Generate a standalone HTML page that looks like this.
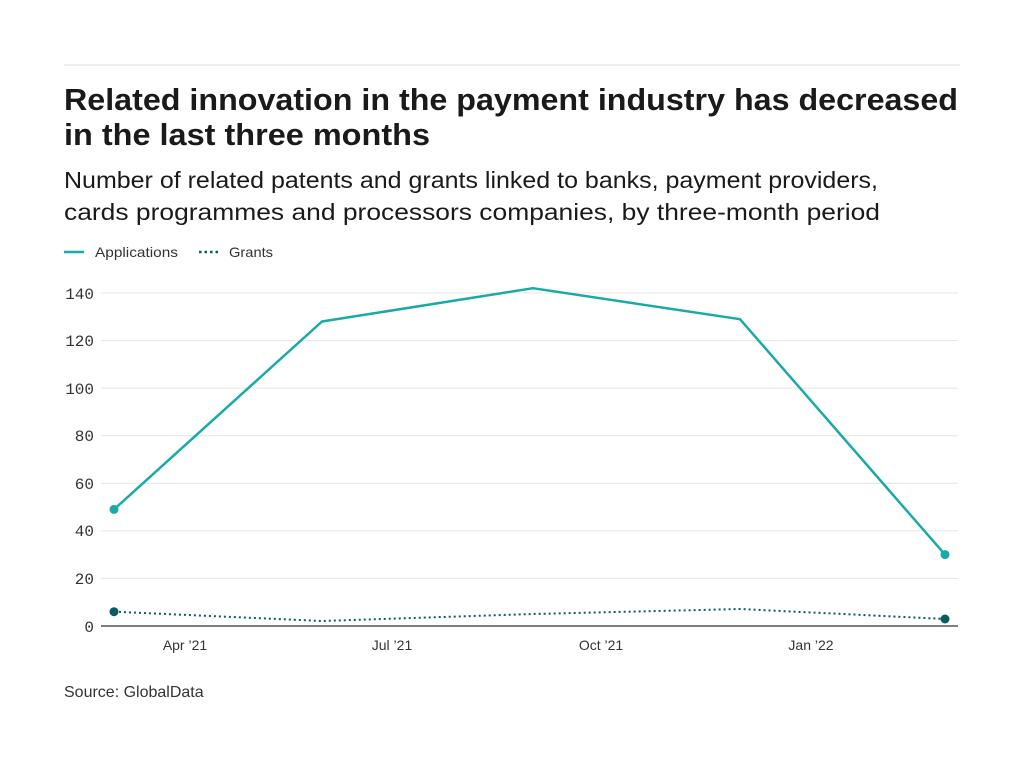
<!DOCTYPE html>
<html><head><style>
body{margin:0;background:#fff;width:1024px;height:768px;overflow:hidden;font-family:"Liberation Sans",sans-serif;color:#1a1a1a}
</style></head><body>
<svg width="1024" height="768" xmlns="http://www.w3.org/2000/svg">
<line x1="64" y1="65" x2="960" y2="65" stroke="#ddd" stroke-width="1"/>
<text x="64" y="110" font-size="31" font-weight="bold" fill="#1a1a1a" font-family="Liberation Sans, sans-serif" textLength="894" lengthAdjust="spacingAndGlyphs">Related innovation in the payment industry has decreased</text>
<text x="64" y="145" font-size="31" font-weight="bold" fill="#1a1a1a" font-family="Liberation Sans, sans-serif" textLength="366" lengthAdjust="spacingAndGlyphs">in the last three months</text>
<text x="64" y="188" font-size="23" fill="#1a1a1a" font-family="Liberation Sans, sans-serif" textLength="814" lengthAdjust="spacingAndGlyphs">Number of related patents and grants linked to banks, payment providers,</text>
<text x="64" y="220" font-size="23" fill="#1a1a1a" font-family="Liberation Sans, sans-serif" textLength="816" lengthAdjust="spacingAndGlyphs">cards programmes and processors companies, by three-month period</text>
<line x1="64" y1="252" x2="84" y2="252" stroke="#1aa9a9" stroke-width="2.5"/>
<text x="95" y="257" font-size="14" fill="#333" textLength="83" lengthAdjust="spacingAndGlyphs">Applications</text>
<line x1="199" y1="252" x2="219" y2="252" stroke="#0b5d5d" stroke-width="2.5" stroke-dasharray="2.5,3"/>
<text x="229" y="257" font-size="14" fill="#333" textLength="44" lengthAdjust="spacingAndGlyphs">Grants</text>
<g stroke="#e4e4e4" stroke-width="1">
<line x1="101" y1="293" x2="958" y2="293"/><line x1="101" y1="340.6" x2="958" y2="340.6"/>
<line x1="101" y1="388.1" x2="958" y2="388.1"/><line x1="101" y1="435.7" x2="958" y2="435.7"/>
<line x1="101" y1="483.3" x2="958" y2="483.3"/><line x1="101" y1="530.9" x2="958" y2="530.9"/>
<line x1="101" y1="578.4" x2="958" y2="578.4"/>
</g>
<line x1="101" y1="626" x2="958" y2="626" stroke="#555" stroke-width="1.5"/>
<g font-family="Liberation Mono, monospace" font-size="16" fill="#333" text-anchor="end">
<text x="94" y="299">140</text><text x="94" y="346">120</text><text x="94" y="394">100</text>
<text x="94" y="441">80</text><text x="94" y="489">60</text><text x="94" y="536">40</text>
<text x="94" y="584">20</text><text x="94" y="632">0</text>
</g>
<g font-size="14" fill="#333" text-anchor="middle">
<text x="185" y="650">Apr ’21</text><text x="392" y="650">Jul ’21</text>
<text x="601" y="650">Oct ’21</text><text x="811" y="650">Jan ’22</text>
</g>
<polyline points="114,509.4 322,321.5 533,288.2 740,319.2 945,554.6" fill="none" stroke="#1aa9a9" stroke-width="2.5" stroke-linejoin="round"/>
<circle cx="114" cy="509.4" r="4.5" fill="#1aa9a9"/><circle cx="945" cy="554.6" r="4.5" fill="#1aa9a9"/>
<polyline points="114,611.7 322,621 533,614 740,609 945,619" fill="none" stroke="#0b5d5d" stroke-width="2" stroke-dasharray="2,3"/>
<circle cx="114" cy="611.7" r="4.5" fill="#0b5d5d"/><circle cx="945" cy="619" r="4.5" fill="#0b5d5d"/>
<text x="64" y="697" font-size="16" fill="#333">Source: GlobalData</text>
</svg>
</body></html>
